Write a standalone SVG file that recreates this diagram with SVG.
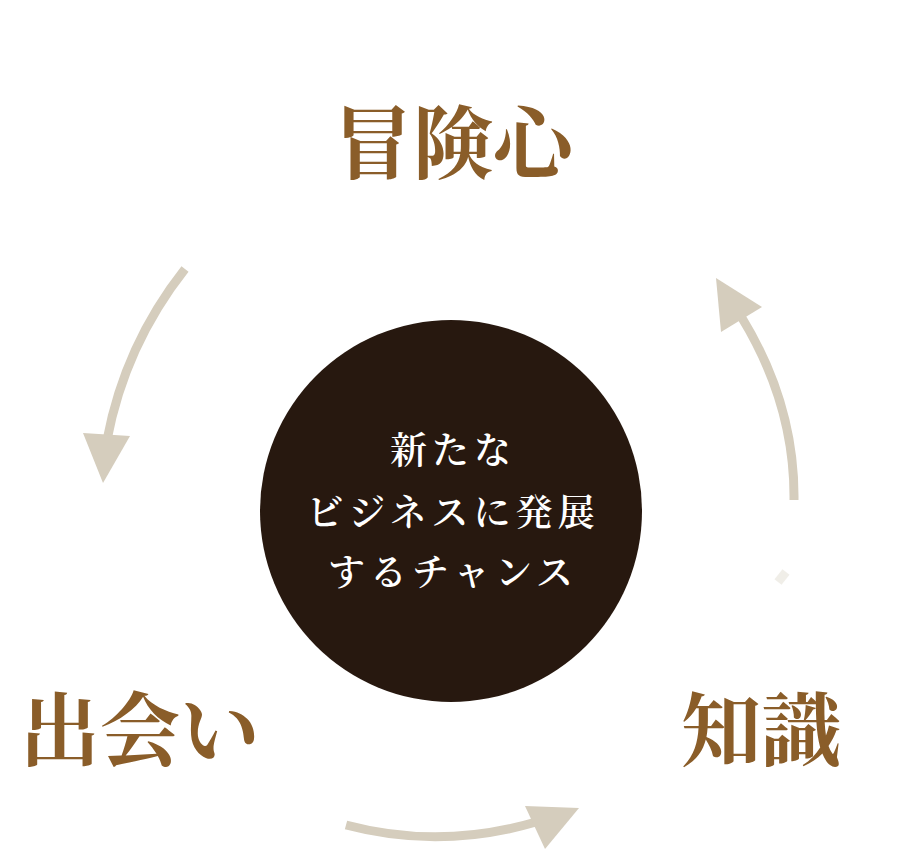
<svg xmlns="http://www.w3.org/2000/svg" width="904" height="866" viewBox="0 0 904 866">
<style>
.lbl{font-family:"Noto Serif CJK JP","Noto Sans CJK JP",serif;font-weight:700;font-size:80px;fill:#8a5d29;text-anchor:middle}
.ctr{font-family:"Noto Serif CJK JP","Noto Sans CJK JP",serif;font-weight:600;font-size:37px;fill:#ffffff;text-anchor:middle;letter-spacing:5px}
.arc{fill:none;stroke:#d5cdbd;stroke-width:9}
.head{fill:#d5cdbd}
</style>
<rect width="904" height="866" fill="#ffffff"/>
<g id="connectors">
<path class="arc" d="M185,269 Q125,345 107,440"/>
<polygon class="head" points="83,433 130,436 103,483"/>
<path class="arc" d="M794,500 Q795,405 742,318"/>
<polygon class="head" points="716,278 762,307 721,332"/>
<path class="arc" d="M778,582 L786,572" stroke-opacity="0.35"/>
<path class="arc" d="M346,825 Q440,850 536,822"/>
<polygon class="head" points="525,806 579,808 545,849"/>
</g>
<g id="center">
<circle cx="451" cy="511" r="191" fill="#27180f"/>
<text class="ctr" x="453" y="464">新たな</text>
<text class="ctr" x="453" y="526">ビジネスに発展</text>
<text class="ctr" x="453" y="586">するチャンス</text>
</g>
<g id="node-bouken"><text class="lbl" x="453" y="172">冒険心</text></g>
<g id="node-deai"><text class="lbl" x="140" y="759">出会い</text></g>
<g id="node-chishiki"><text class="lbl" x="761" y="759">知識</text></g>
</svg>
